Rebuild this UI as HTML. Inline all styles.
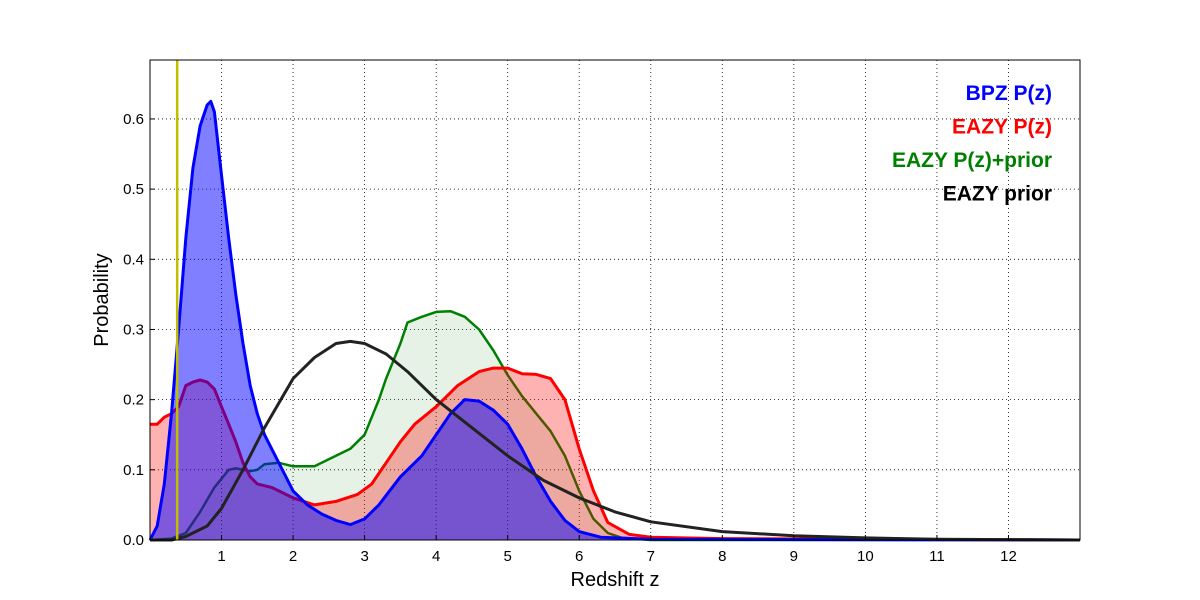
<!DOCTYPE html>
<html><head><meta charset="utf-8"><style>body{margin:0;background:#fff}svg{display:block;font-family:"Liberation Sans","DejaVu Sans",sans-serif}</style></head>
<body>
<svg id="chart" width="1200" height="600"></svg>
<script>
const xTicks=[1,2,3,4,5,6,7,8,9,10,11,12];
const yTicks=[0.0,0.1,0.2,0.3,0.4,0.5,0.6];
const bpzZ=[0,0.1,0.2,0.3,0.4,0.5,0.6,0.7,0.8,0.85,0.9,1.0,1.1,1.2,1.3,1.4,1.5,1.6,1.8,2.0,2.2,2.4,2.6,2.8,3.0,3.2,3.5,3.8,4.0,4.2,4.4,4.6,4.8,5.0,5.2,5.4,5.6,5.8,6.0,6.3,7,13];
const bpzP=[0,0.02,0.08,0.18,0.3,0.43,0.53,0.59,0.62,0.625,0.61,0.52,0.43,0.35,0.28,0.22,0.18,0.15,0.11,0.07,0.05,0.037,0.028,0.022,0.03,0.05,0.09,0.12,0.15,0.18,0.2,0.198,0.185,0.165,0.13,0.09,0.055,0.028,0.012,0.004,0.001,0];
const eazyZ=[0,0.1,0.2,0.3,0.4,0.5,0.6,0.7,0.8,0.9,1.0,1.1,1.2,1.3,1.4,1.5,1.7,2.0,2.3,2.6,2.9,3.1,3.3,3.5,3.7,4.0,4.3,4.6,4.8,5.0,5.2,5.4,5.6,5.8,6.0,6.2,6.4,6.7,7,8,13];
const eazyP=[0.165,0.165,0.175,0.18,0.19,0.22,0.225,0.228,0.225,0.215,0.19,0.165,0.14,0.11,0.09,0.08,0.075,0.06,0.05,0.055,0.065,0.08,0.11,0.14,0.165,0.19,0.22,0.24,0.245,0.245,0.237,0.236,0.23,0.2,0.13,0.07,0.025,0.008,0.004,0.002,0];
const priorPZ=[0,0.3,0.5,0.7,0.9,1.1,1.2,1.4,1.5,1.6,1.8,2.0,2.3,2.5,2.8,3.0,3.2,3.3,3.5,3.6,3.8,4.0,4.2,4.4,4.6,4.8,5.0,5.2,5.4,5.6,5.8,6.0,6.2,6.4,6.6,7,13];
const priorPP=[0,0.002,0.01,0.04,0.075,0.1,0.102,0.098,0.1,0.108,0.11,0.105,0.105,0.115,0.13,0.15,0.2,0.23,0.28,0.31,0.318,0.325,0.326,0.318,0.3,0.27,0.235,0.205,0.18,0.155,0.12,0.07,0.03,0.01,0.003,0,0];
const priorZ=[0,0.3,0.5,0.8,1.0,1.3,1.6,2.0,2.3,2.6,2.8,3.0,3.3,3.6,4.0,4.5,5.0,5.5,6.0,6.5,7,8,9,10,11,12,13];
const priorP=[0,0,0.005,0.02,0.045,0.1,0.16,0.23,0.26,0.28,0.283,0.28,0.265,0.24,0.2,0.16,0.12,0.085,0.06,0.04,0.026,0.012,0.006,0.003,0.001,0.0005,0];
const specZ=0.38;
const L=150,R=1080,T=60,B=540,X0=0,X1=13,Y0=0,Y1=0.684;
const sx=v=>L+(v-X0)/(X1-X0)*(R-L), sy=v=>B-(v-Y0)/(Y1-Y0)*(B-T);
const NS="http://www.w3.org/2000/svg", svg=document.getElementById('chart');
function mk(t,a,p){const e=document.createElementNS(NS,t);for(const k in a)e.setAttribute(k,a[k]);(p||svg).appendChild(e);return e;}
// grid
xTicks.forEach(v=>{const g=mk('line',{x1:sx(v),x2:sx(v),y1:T,y2:B,stroke:'#000','stroke-dasharray':'1,3','stroke-width':0.8});

});
yTicks.forEach(v=>{const g=mk('line',{x1:L,x2:R,y1:sy(v),y2:sy(v),stroke:'#000','stroke-dasharray':'1,3','stroke-width':0.8});

});
function series(zs,ps,color,fillOp,w,name){
  const pts=zs.map((z,i)=>sx(z).toFixed(1)+','+sy(ps[i]).toFixed(1));
  if(fillOp>0){const f=mk('polygon',{points:sx(zs[0])+','+sy(0)+' '+pts.join(' ')+' '+sx(zs[zs.length-1])+','+sy(0),fill:color,'fill-opacity':fillOp,stroke:'none'});
  
  }
  const l=mk('polyline',{points:pts.join(' '),fill:'none',stroke:color,'stroke-width':w,'stroke-linejoin':'round'});
  
  
}
series(priorPZ,priorPP,'#008000',0.1,2.5,'eazy-pz-prior');
series(eazyZ,eazyP,'#ff0000',0.3,3,'eazy-pz');
series(bpzZ,bpzP,'#0000ff',0.5,3,'bpz-pz');
series(priorZ,priorP,'#222222',0,3,'eazy-prior');
const yl=mk('line',{x1:sx(specZ),x2:sx(specZ),y1:T,y2:B,stroke:'#bfbf00','stroke-width':2.5});


const fr=mk('rect',{x:L,y:T,width:R-L,height:B-T,fill:'none',stroke:'#000','stroke-width':1});


xTicks.forEach(v=>{const t=mk('text',{x:sx(v),y:B+21,'text-anchor':'middle','font-size':15});t.textContent=v;


mk('line',{x1:sx(v),x2:sx(v),y1:B,y2:B-5,stroke:'#000'});});
yTicks.forEach(v=>{const t=mk('text',{x:L-6,y:sy(v)+5,'text-anchor':'end','font-size':15});t.textContent=v.toFixed(1);


mk('line',{x1:L,x2:L+5,y1:sy(v),y2:sy(v),stroke:'#000'});});
const xt=mk('text',{x:615,y:586,'text-anchor':'middle','font-size':20});xt.textContent='Redshift z';


const yt=mk('text',{x:108,y:300,'text-anchor':'middle','font-size':20,transform:'rotate(-90 108 300)'});yt.textContent='Probability';


const legTexts=['BPZ P(z)','EAZY P(z)','EAZY P(z)+prior','EAZY prior'];
const legColors=['#0000ff','#ff0000','#008000','#000000'];
legTexts.forEach((s,i)=>{const t=mk('text',{x:1052,y:100+i*33.5,'text-anchor':'end','font-size':21,'font-weight':'bold',fill:legColors[i]});t.textContent=s;

});
</script>
</body></html>
